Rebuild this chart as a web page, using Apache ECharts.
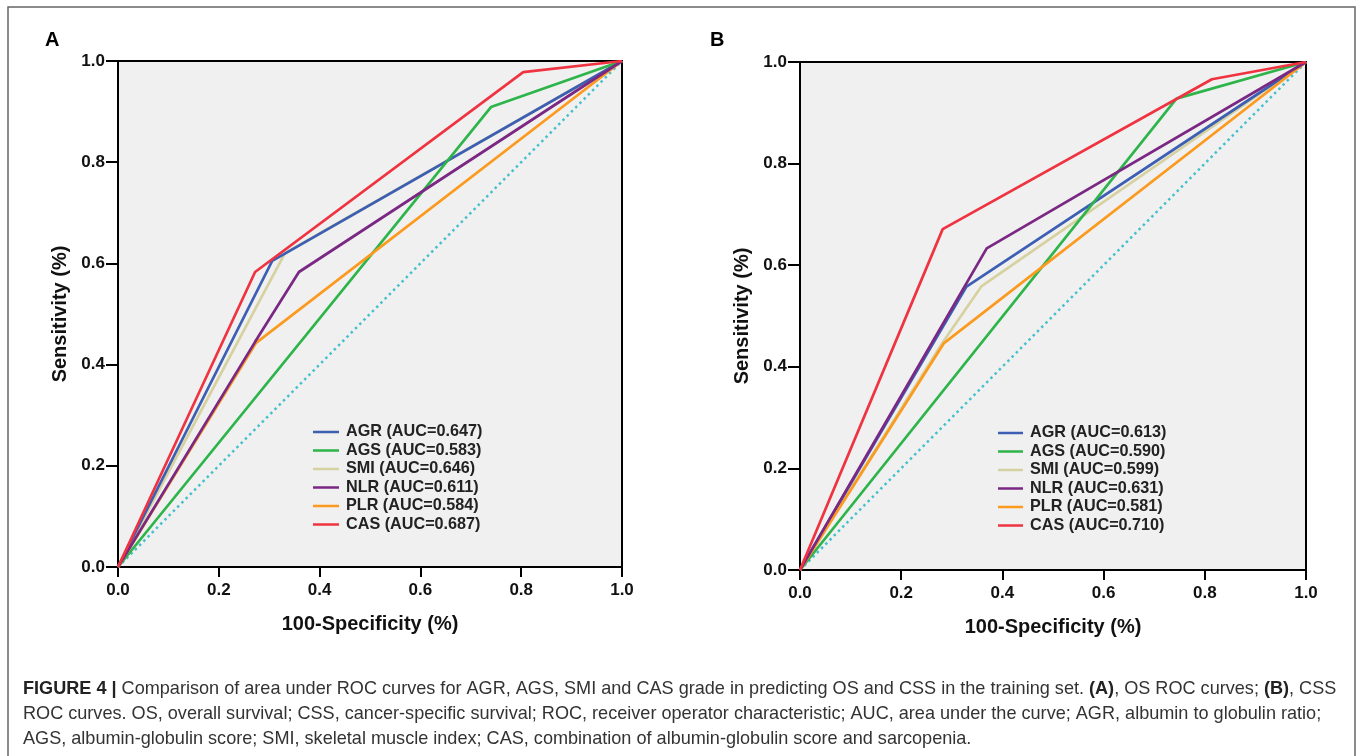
<!DOCTYPE html>
<html>
<head>
<meta charset="utf-8">
<script src="https://cdn.jsdelivr.net/npm/echarts@6/dist/echarts.min.js"></script>
<style>
html,body{margin:0;padding:0;background:#fff;}
#c{width:1360px;height:756px;}
</style>
</head>
<body>
<div id="c"></div>
<script>
// ---- Data ----
const markers = ['AGR', 'AGS', 'SMI', 'NLR', 'PLR', 'CAS'];
const aucOS  = ['0.647', '0.583', '0.646', '0.611', '0.584', '0.687'];
const aucCSS = ['0.613', '0.590', '0.599', '0.631', '0.581', '0.710'];
const axisTicks = [0, 0.2, 0.4, 0.6, 0.8, 1.0];

// Panel A: OS ROC curves ([1-specificity, sensitivity])
const osAGR = [[0,0],[0.306,0.605],[1,1]];
const osAGS = [[0,0],[0.740,0.909],[1,1]];
const osSMI = [[0,0],[0.331,0.620],[1,1]];
const osNLR = [[0,0],[0.272,0.445],[0.359,0.583],[1,1]];
const osPLR = [[0,0],[0.274,0.443],[1,1]];
const osCAS = [[0,0],[0.272,0.583],[0.804,0.978],[1,1]];

// Panel B: CSS ROC curves
const cssAGR = [[0,0],[0.329,0.558],[1,1]];
const cssAGS = [[0,0],[0.744,0.928],[1,1]];
const cssSMI = [[0,0],[0.282,0.448],[0.359,0.559],[1,1]];
const cssNLR = [[0,0],[0.369,0.633],[1,1]];
const cssPLR = [[0,0],[0.284,0.446],[1,1]];
const cssCAS = [[0,0],[0.282,0.671],[0.814,0.966],[1,1]];

const diagonal = [[0,0],[1,1]];

// ---- Styles ----
const colors = {AGR:'#3c5fb4', AGS:'#2db44a', SMI:'#d6d1a0', NLR:'#7a2883', PLR:'#fb9a1e', CAS:'#ef3340'};
const drawOrder = ['SMI','AGR','AGS','PLR','NLR','CAS'];
const osData = {AGR:osAGR, AGS:osAGS, SMI:osSMI, NLR:osNLR, PLR:osPLR, CAS:osCAS};
const cssData = {AGR:cssAGR, AGS:cssAGS, SMI:cssSMI, NLR:cssNLR, PLR:cssPLR, CAS:cssCAS};

const FONT = 'Liberation Sans, Arial, sans-serif';
const osNames = markers.map((m,i)=> m + ' (AUC=' + aucOS[i] + ')');
const cssNames = markers.map((m,i)=> m + ' (AUC=' + aucCSS[i] + ')');

function mkX(idx){
  return {
    type:'value', gridIndex:idx, min:0, max:1, interval:0.2,
    name:'100-Specificity (%)', nameLocation:'middle', nameGap:47,
    nameTextStyle:{fontFamily:FONT, fontWeight:'bold', fontSize:20, color:'#111'},
    axisLine:{show:true, onZero:false, lineStyle:{color:'#000', width:2}},
    axisTick:{show:true, length:10, lineStyle:{color:'#000', width:2}},
    axisLabel:{fontFamily:FONT, fontWeight:'bold', fontSize:17, color:'#111', margin:15,
      formatter:v=>v.toFixed(1)},
    splitLine:{show:false}
  };
}
function mkY(idx){
  return {
    type:'value', gridIndex:idx, min:0, max:1, interval:0.2,
    name:'Sensitivity (%)', nameLocation:'middle', nameGap:48,
    nameTextStyle:{fontFamily:FONT, fontWeight:'bold', fontSize:20, color:'#111'},
    axisLine:{show:true, onZero:false, lineStyle:{color:'#000', width:2}},
    axisTick:{show:true, length:12, lineStyle:{color:'#000', width:2}},
    axisLabel:{fontFamily:FONT, fontWeight:'bold', fontSize:17, color:'#111', margin:13,
      formatter:v=>v.toFixed(1)},
    splitLine:{show:false}
  };
}

const series = [];
[[osData, osNames, 0],[cssData, cssNames, 1]].forEach(([d, names, gi])=>{
  series.push({
    type:'line', name:'diag'+gi, xAxisIndex:gi, yAxisIndex:gi, data:diagonal,
    showSymbol:false, symbol:'none', silent:true,
    lineStyle:{color:'#44c0cd', width:2.5, type:[2.5,3.5]}
  });
  drawOrder.forEach(m=>{
    const i = markers.indexOf(m);
    series.push({
      type:'line', name:names[i], xAxisIndex:gi, yAxisIndex:gi, data:d[m],
      showSymbol:false, symbol:'none', color:colors[m],
      lineStyle:{color:colors[m], width:2.7}
    });
  });
});

function mkLegend(names, left, top, w){
  return {
    data:names.map(n=>({name:n, icon:'rect'})), orient:'vertical', left:left, top:top,
    itemWidth:w, itemHeight:2.5, itemGap:2.5, selectedMode:false,
    textStyle:{fontFamily:FONT, fontWeight:'bold', fontSize:16.2, color:'#222', lineHeight:16, padding:[0,0,0,2]}
  };
}

const option = {
  backgroundColor:'#fff',
  animation:false,
  grid:[
    {left:118, top:61, width:504, height:506, show:true, backgroundColor:'#f0f0f0', borderColor:'#000', borderWidth:2},
    {left:800, top:62, width:506, height:508, show:true, backgroundColor:'#f0f0f0', borderColor:'#000', borderWidth:2}
  ],
  xAxis:[mkX(0), mkX(1)],
  yAxis:[mkY(0), mkY(1)],
  legend:[mkLegend(osNames, 308, 419, 26), mkLegend(cssNames, 993, 420, 25)],
  series:series,
  graphic:[
    {type:'rect', shape:{x:8, y:7, width:1347, height:800}, style:{fill:'none', stroke:'#666', lineWidth:1.5}, silent:true},
    {type:'text', x:45, y:40, style:{text:'A', font:'bold 20px '+FONT, fill:'#000', verticalAlign:'middle'}},
    {type:'text', x:710, y:40, style:{text:'B', font:'bold 20px '+FONT, fill:'#000', verticalAlign:'middle'}},
    {type:'text', x:23, y:689, style:{
      text:'{b|FIGURE 4 |} Comparison of area under ROC curves for AGR, AGS, SMI and CAS grade in predicting OS and CSS in the training set. {b|(A)}, OS ROC curves; {b|(B)}, CSS',
      verticalAlign:'middle', fontFamily:FONT, fontSize:18.1, fill:'#333',
      rich:{b:{fontFamily:FONT, fontSize:18.1, fontWeight:'bold', fill:'#222'}}
    }},
    {type:'text', x:23, y:714, style:{
      text:'ROC curves. OS, overall survival; CSS, cancer-specific survival; ROC, receiver operator characteristic; AUC, area under the curve; AGR, albumin to globulin ratio;',
      verticalAlign:'middle', fontFamily:FONT, fontSize:18.1, fill:'#333'
    }},
    {type:'text', x:23, y:739, style:{
      text:'AGS, albumin-globulin score; SMI, skeletal muscle index; CAS, combination of albumin-globulin score and sarcopenia.',
      verticalAlign:'middle', fontFamily:FONT, fontSize:18.1, fill:'#333'
    }}
  ]
};

const chart = echarts.init(document.getElementById('c'), null, {renderer:'canvas'});
chart.setOption(option);
</script>
</body>
</html>
